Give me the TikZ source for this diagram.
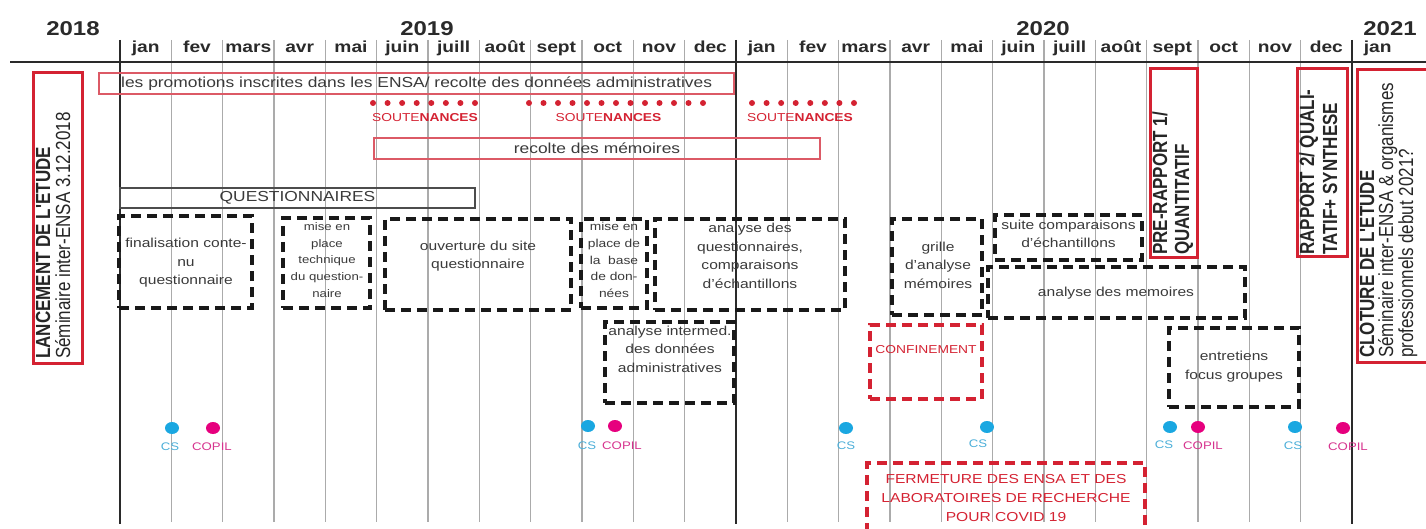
\documentclass[tikz,border=0pt]{standalone}
\usepackage{fontspec}
\setmainfont{Liberation Sans}[FakeStretch=1.2]
\newfontfamily\rotfont{Liberation Sans}
\usepackage{graphicx}
\definecolor{gridgray}{HTML}{ABABAB}
\definecolor{darkline}{HTML}{2A2A2A}
\definecolor{textgray}{HTML}{3A3A3A}
\definecolor{ensared}{HTML}{D42232}
\definecolor{thinred}{HTML}{DC5A66}
\definecolor{cyandot}{HTML}{1AA7E1}
\definecolor{cyantxt}{HTML}{4BAED8}
\definecolor{magdot}{HTML}{E6007E}
\definecolor{magtxt}{HTML}{D6338E}
\begin{document}
\begin{tikzpicture}[x=1pt,y=-1pt,
  gridline/.style={draw=gridgray, line width=1.1pt},
  yearline/.style={draw=darkline, line width=1.7pt},
  monthlbl/.style={font=\bfseries\fontsize{16}{18}\selectfont, text=darkline, inner sep=0, anchor=base},
  yearlbl/.style={font=\bfseries\fontsize{20}{22}\selectfont, text=darkline, inner sep=0, anchor=base},
  dbox/.style={draw=black!90, line width=3.2pt, dash pattern=on 10pt off 6pt, inner sep=0, outer sep=0},
  rdbox/.style={draw=ensared, line width=3.2pt, dash pattern=on 10pt off 6pt, inner sep=0, outer sep=0},
  redbox/.style={draw=ensared, line width=3pt, inner sep=0, outer sep=0},
  thinred/.style={draw=thinred, line width=1.2pt, inner sep=0, outer sep=0},
  thinblack/.style={draw=black!70, line width=1.2pt, inner sep=0, outer sep=0},
  btxt/.style={align=center, font=\fontsize{13}{18.5}\selectfont, text=textgray, inner sep=0},
  stxt/.style={align=center, font=\fontsize{11}{16.6}\selectfont, text=textgray, inner sep=0},
  ltxt/.style={font=\fontsize{14.5}{17}\selectfont, text=textgray, inner sep=0},
  rtxt/.style={align=center, font=\fontsize{13}{19}\selectfont, text=ensared, inner sep=0},
  rot/.style={rotate=90, anchor=base west, inner sep=0, text=black!85, font=\rotfont\fontsize{17}{20}\selectfont},
  sout/.style={font=\fontsize{11.5}{13}\selectfont, text=ensared, inner sep=0},
  soutdot/.style={fill=ensared},
  cslbl/.style={font=\fontsize{11}{13}\selectfont, text=cyantxt, inner sep=0},
  copillbl/.style={font=\fontsize{11}{13}\selectfont, text=magtxt, inner sep=0}
]
\useasboundingbox (0,0) rectangle (1426,529);
\clip (0,0) rectangle (1426,529);

% grid
\foreach \i in {1,...,11,13,14,...,23} {
  \draw[gridline] (120+51.333*\i,40) -- (120+51.333*\i,522);
}
\foreach \i in {0,12,24} {
  \draw[yearline] (120+51.333*\i,40) -- (120+51.333*\i,524);
}
\draw[draw=darkline, line width=1.8pt] (10,62) -- (1426,62);

% header
\node[yearlbl] (y2018) at (73,36) {2018};
\node[yearlbl] (y2019) at (427,36) {2019};
\node[yearlbl] (y2020) at (1043,36) {2020};
\node[yearlbl] (y2021) at (1390,36) {2021};
\foreach \m [count=\k from 0] in {jan,fev,mars,avr,mai,juin,juill,août,sept,oct,nov,dec,jan,fev,mars,avr,mai,juin,juill,août,sept,oct,nov,dec,jan} {
  \node[monthlbl] (m\k) at (145.67+51.333*\k,53) {\m};
}

% thin bars
\node[thinred, minimum width=635pt, minimum height=21pt] (bProm) at (416.5,83.5) {};
\node[ltxt, anchor=west] (tProm) at (121,84) {les promotions inscrites dans les ENSA/ recolte des données administratives};
\node[thinred, minimum width=446pt, minimum height=21pt] (bRec) at (597,148.5) {};
\node[ltxt] (tRec) at (597,148.5) {recolte des mémoires};
\node[thinblack, minimum width=355pt, minimum height=20pt] (bQ) at (297.5,198) {};
\node[ltxt] (tQ) at (297.5,198) {QUESTIONNAIRES};

% soutenances
\foreach \j in {0,...,7} { \fill[soutdot] (373+14.57*\j,103) circle (3pt); }
\foreach \j in {0,...,12} { \fill[soutdot] (529+14.5*\j,103) circle (3pt); }
\foreach \j in {0,...,7} { \fill[soutdot] (752+14.57*\j,103) circle (3pt); }
\node[sout] (s1) at (425,118) {SOUTE\textbf{NANCES}};
\node[sout] (s2) at (608.5,118) {SOUTE\textbf{NANCES}};
\node[sout] (s3) at (800,118) {SOUTE\textbf{NANCES}};

% dashed boxes
\node[dbox, minimum width=133pt, minimum height=92pt] (bA) at (185.5,262) {};
\node[btxt] (tA) at (186,263) {finalisation conte-\\nu\\questionnaire};
\node[dbox, minimum width=87pt, minimum height=90pt] (bB) at (326.5,263) {};
\node[stxt] (tB) at (327,260) {mise en\\place\\technique\\du question-\\naire};
\node[dbox, minimum width=186pt, minimum height=91pt] (bC) at (478,264.5) {};
\node[btxt] (tC) at (478,256) {ouverture du site\\questionnaire};
\node[dbox, minimum width=66pt, minimum height=89pt] (bD) at (614,263.5) {};
\node[align=center, font=\fontsize{11.5}{16.6}\selectfont, text=textgray, inner sep=0] (tD) at (614,260) {mise en\\place de\\la\ \ base\\de don-\\nées};
\node[dbox, minimum width=190pt, minimum height=91pt] (bE) at (750,264.5) {};
\node[align=center, font=\fontsize{13}{18.5}\selectfont, text=textgray, inner sep=0] (tE) at (750,256) {analyse des\\questionnaires,\\comparaisons\\d'échantillons};
\node[dbox, minimum width=129pt, minimum height=81pt] (bF) at (669.5,362.5) {};
\node[btxt] (tF) at (670,349) {analyse intermed.\\des données\\administratives};
\node[dbox, minimum width=90pt, minimum height=96pt] (bG) at (937,267) {};
\node[btxt] (tG) at (938,265) {grille\\d'analyse\\mémoires};
\node[dbox, minimum width=147pt, minimum height=45pt] (bH) at (1068.5,237.5) {};
\node[btxt] (tH) at (1068.5,234) {suite comparaisons\\d'échantillons};
\node[dbox, minimum width=257pt, minimum height=51pt] (bI) at (1116.5,292.5) {};
\node[btxt] (tI) at (1116,293) {analyse des memoires};
\node[dbox, minimum width=130pt, minimum height=79pt] (bJ) at (1234,367.5) {};
\node[btxt] (tJ) at (1234,366.5) {entretiens\\focus groupes};

% red dashed
\node[rdbox, minimum width=112pt, minimum height=74pt] (bK) at (926,362) {};
\node[sout] (tK) at (926,350) {CONFINEMENT};
\node[rdbox, minimum width=278pt, minimum height=72pt] (bL) at (1006,499) {};
\node[rtxt] (tL) at (1006,498) {FERMETURE DES ENSA ET DES\\LABORATOIRES DE RECHERCHE\\POUR COVID 19};

% red milestone boxes
\node[redbox, minimum width=49pt, minimum height=290pt] (rL) at (57.5,218) {};
\node[rot] (rL1) at (50,359) {\scalebox{1}[1.2]{\bfseries LANCEMENT DE L'ETUDE}};
\node[rot] (rL2) at (70,359) {\scalebox{1}[1.2]{Séminaire inter-ENSA 3.12.2018}};

\node[redbox, minimum width=47pt, minimum height=189pt] (rP) at (1173.5,163.5) {};
\node[rot] (rP1) at (1167,255) {\scalebox{1}[1.2]{\bfseries PRE-RAPPORT 1/}};
\node[rot] (rP2) at (1189,255) {\scalebox{1}[1.2]{\bfseries QUANTITATIF}};

\node[redbox, minimum width=50pt, minimum height=188pt] (rR) at (1322,163) {};
\node[rot] (rR1) at (1314,255) {\scalebox{1}[1.2]{\bfseries RAPPORT 2/ QUALI-}};
\node[rot] (rR2) at (1337,255) {\scalebox{1}[1.2]{\bfseries TATIF+ SYNTHESE}};

\node[redbox, minimum width=83pt, minimum height=292pt] (rC) at (1398.5,216) {};
\node[rot] (rC1) at (1374,358) {\scalebox{1}[1.2]{\bfseries CLOTURE DE L'ETUDE}};
\node[rot] (rC2) at (1393,358) {\scalebox{1}[1.2]{Séminaire inter-ENSA \& organismes}};
\node[rot] (rC3) at (1413,358) {\scalebox{1}[1.2]{professionnels debut 2021?}};

% CS / COPIL
\fill[cyandot] (172,428) ellipse [x radius=7pt, y radius=6pt];
\fill[magdot] (213,428) ellipse [x radius=7pt, y radius=6pt];
\node[cslbl] (cs1) at (170,447) {CS};
\node[copillbl] (cp1) at (212,447) {COPIL};
\fill[cyandot] (588,426) ellipse [x radius=7pt, y radius=6pt];
\fill[magdot] (615,426) ellipse [x radius=7pt, y radius=6pt];
\node[cslbl] (cs2) at (587,446) {CS};
\node[copillbl] (cp2) at (622,446) {COPIL};
\fill[cyandot] (846,428) ellipse [x radius=7pt, y radius=6pt];
\node[cslbl] (cs3) at (846,446) {CS};
\fill[cyandot] (987,427) ellipse [x radius=7pt, y radius=6pt];
\node[cslbl] (cs4) at (978,444) {CS};
\fill[cyandot] (1170,427) ellipse [x radius=7pt, y radius=6pt];
\fill[magdot] (1198,427) ellipse [x radius=7pt, y radius=6pt];
\node[cslbl] (cs5) at (1164,445) {CS};
\node[copillbl] (cp5) at (1203,446) {COPIL};
\fill[cyandot] (1295,427) ellipse [x radius=7pt, y radius=6pt];
\fill[magdot] (1343,428) ellipse [x radius=7pt, y radius=6pt];
\node[cslbl] (cs6) at (1293,446) {CS};
\node[copillbl] (cp6) at (1348,447) {COPIL};
\end{tikzpicture}
\end{document}
